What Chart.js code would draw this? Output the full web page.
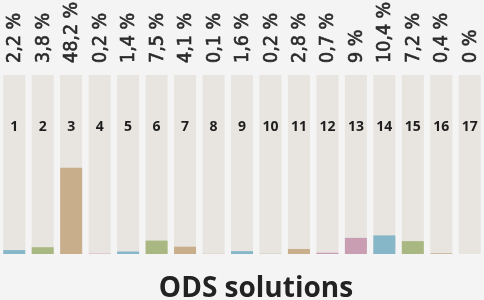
<!DOCTYPE html>
<html>
<head>
<meta charset="utf-8">
<script src="https://cdn.jsdelivr.net/npm/chart.js@4"></script>
<style>
  html, body { margin: 0; padding: 0; background: #f4f4f4; }
  #wrap { width: 484px; height: 300px; position: relative; }
</style>
</head>
<body>
<div id="wrap"><canvas id="odsChart"></canvas></div>
<script>
const goals = ['1', '2', '3', '4', '5', '6', '7', '8', '9', '10', '11', '12', '13', '14', '15', '16', '17'];
const shares = [2.2, 3.8, 48.2, 0.2, 1.4, 7.5, 4.1, 0.1, 1.6, 0.2, 2.8, 0.7, 9, 10.4, 7.2, 0.4, 0];
const shareLabels = ['2,2 %', '3,8 %', '48,2 %', '0,2 %', '1,4 %', '7,5 %', '4,1 %', '0,1 %', '1,6 %',
                     '0,2 %', '2,8 %', '0,7 %', '9 %', '10,4 %', '7,2 %', '0,4 %', '0 %'];
const fullScale = [100, 100, 100, 100, 100, 100, 100, 100, 100, 100, 100, 100, 100, 100, 100, 100, 100];
const barColors = ['#86b7c8', '#a9b883', '#c8ae8a', '#c99db2', '#86b7c8', '#a9b883', '#c8ae8a', '#c8ae8a',
                   '#86b7c8', '#c8bfae', '#c8ae8a', '#c99db2', '#c99db2', '#86b7c8', '#a9b883', '#c8ae8a', '#c8ae8a'];
const chartTitle = 'ODS solutions';

// percentages above the columns, goal numbers inside them, title below
const labelPlugin = {
  id: 'odsLabels',
  afterDatasetsDraw(chart) {
    const ctx = chart.ctx;
    const x = chart.scales.x;
    ctx.save();
    goals.forEach((g, i) => {
      const px = x.getPixelForValue(i);
      ctx.fillStyle = '#1e1e1e';
      ctx.font = 'bold 14px "Open Sans"';
      ctx.textAlign = 'center';
      ctx.textBaseline = 'middle';
      ctx.fillText(g, px, 127);

      ctx.save();
      ctx.translate(px + 1, 63);
      ctx.rotate(-Math.PI / 2);
      ctx.font = '19.5px "DejaVu Sans Condensed", "DejaVu Sans"';
      ctx.fontStretch = 'condensed';
      ctx.fillStyle = '#2a2a2a';
      ctx.strokeStyle = '#2a2a2a';
      ctx.lineWidth = 0.6;
      ctx.textAlign = 'left';
      ctx.textBaseline = 'middle';
      ctx.fillText(shareLabels[i], 0, 0);
      ctx.strokeText(shareLabels[i], 0, 0);
      ctx.restore();
    });

    ctx.font = 'bold 28px "Open Sans"';
    ctx.fillStyle = '#222';
    ctx.textAlign = 'center';
    ctx.textBaseline = 'alphabetic';
    ctx.fillText(chartTitle, 256, 297);
    ctx.restore();
  }
};

const cfg = {
  type: 'bar',
  data: {
    labels: goals,
    datasets: [{
      data: shares,
      backgroundColor: barColors,
      order: 1,
      barPercentage: 0.773,
      categoryPercentage: 1
    }, {
      data: fullScale,
      backgroundColor: '#e8e5e0',
      order: 2,
      barPercentage: 0.773,
      categoryPercentage: 1
    }]
  },
  options: {
    responsive: true,
    maintainAspectRatio: false,
    animation: false,
    layout: { padding: { top: 75, bottom: 46, left: 0, right: 0 } },
    scales: {
      x: { stacked: true, display: false },
      y: { stacked: false, display: false, min: 0, max: 100 }
    },
    plugins: {
      legend: { display: false },
      tooltip: { enabled: false },
      title: { display: false }
    }
  },
  plugins: [labelPlugin]
};

const odsChart = new Chart(document.getElementById('odsChart'), cfg);
</script>
</body>
</html>
